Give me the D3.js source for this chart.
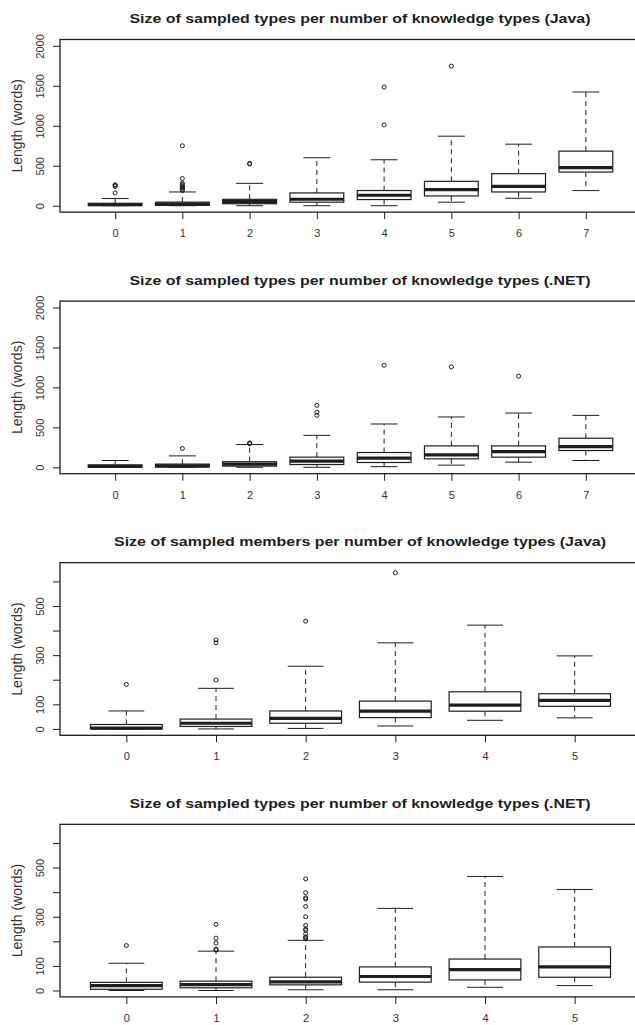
<!DOCTYPE html>
<html>
<head>
<meta charset="utf-8">
<script src="https://cdn.jsdelivr.net/npm/d3@7"></script>
<style>
body { margin: 0; background: #fff; }
svg { display: block; font-family: "Liberation Sans", Arial, sans-serif; }
</style>
</head>
<body>
<script>
// chart titles, top to bottom
var titles = [
  "Size of sampled types per number of knowledge types (Java)",
  "Size of sampled types per number of knowledge types (.NET)",
  "Size of sampled members per number of knowledge types (Java)",
  "Size of sampled types per number of knowledge types (.NET)"
];
var catsEight = ["0", "1", "2", "3", "4", "5", "6", "7"];
var catsSix = ["0", "1", "2", "3", "4", "5"];

// each box: [lower whisker, Q1, median, Q3, upper whisker]
var javaTypeStats = [[0, 3, 12, 30, 90], [0, 5, 20, 45, 172], [0, 25, 50, 80, 280], [0, 44, 81, 160, 600],
  [0, 77, 131, 190, 575], [44, 122, 202, 305, 870], [93, 172, 243, 401, 770], [189, 421, 476, 683, 1423]];
var javaTypeOutliers = [[160, 240, 255, 262], [190, 205, 220, 235, 250, 265, 280, 340, 750], [520, 530], [],
  [1011, 1485], [1747], [], []];

var netTypeStats = [[0, 0, 10, 31, 85], [0, 3, 19, 40, 143], [0, 15, 40, 70, 285], [0, 35, 77, 127, 400],
  [8, 60, 114, 185, 542], [27, 106, 156, 268, 630], [64, 127, 197, 268, 679], [85, 210, 260, 364, 650]];
var netTypeOutliers = [[], [235], [295, 300, 305], [650, 690, 775], [1277], [1256], [1140], []];

var javaMemberStats = [[0, 0, 3, 18, 73], [0, 10, 23, 40, 165], [2, 23, 43, 73, 255], [12, 46, 72, 113, 350],
  [35, 72, 97, 151, 422], [45, 92, 116, 143, 297]];
var javaMemberOutliers = [[181], [199, 350, 362], [438], [635], [], []];

var netTypeStats2 = [[0, 5, 20, 33, 111], [0, 11, 24, 38, 160], [3, 23, 35, 54, 204], [3, 34, 57, 96, 334],
  [13, 43, 85, 128, 464], [20, 54, 96, 177, 411]];
var netTypeOutliers2 = [[183], [165, 168, 193, 213, 269],
  [210, 215, 218, 230, 245, 250, 265, 300, 342, 372, 377, 398, 454], [], [], []];

var bigTicks = [0, 500, 1000, 1500, 2000];
var bigLabels = ["0", "500", "1000", "1500", "2000"];
var smallTicks = [0, 100, 200, 300, 400, 500, 600];
var smallLabels = ["0", "100", "", "300", "", "500", ""];

var panels = [
  { title: titles[0], cats: catsEight, stats: javaTypeStats, outliers: javaTypeOutliers, domain: [-80, 2080], ticks: bigTicks, labels: bigLabels, tl: 461 },
  { title: titles[1], cats: catsEight, stats: netTypeStats, outliers: netTypeOutliers, domain: [-80, 2080], ticks: bigTicks, labels: bigLabels, tl: 461 },
  { title: titles[2], cats: catsSix, stats: javaMemberStats, outliers: javaMemberOutliers, domain: [-26, 676], ticks: smallTicks, labels: smallLabels, tl: 492 },
  { title: titles[3], cats: catsSix, stats: netTypeStats2, outliers: netTypeOutliers2, domain: [-26, 676], ticks: smallTicks, labels: smallLabels, tl: 461 }
];

var ink = "#1e1e1e";
var svg = d3.select("body").append("svg")
  .attr("width", 635)
  .attr("height", 1025);

panels.forEach(function (p, i) {
  var top = 39.5 + i * 261.6;
  var bottom = top + 172.6;
  var n = p.cats.length;
  var x = d3.scaleLinear().domain([0.5 - n * 0.04, n + 0.5 + n * 0.04]).range([60, 641]);
  var y = d3.scaleLinear().domain(p.domain).range([bottom, top]);
  var g = svg.append("g");

  g.append("text")
    .attr("x", 360)
    .attr("y", top - 16.5)
    .attr("text-anchor", "middle")
    .attr("font-size", 13)
    .attr("font-weight", "bold")
    .attr("textLength", p.tl)
    .attr("lengthAdjust", "spacingAndGlyphs")
    .attr("fill", ink)
    .text(p.title);

  g.append("text")
    .attr("transform", "translate(22," + ((top + bottom) / 2) + ") rotate(-90)")
    .attr("text-anchor", "middle")
    .attr("font-size", 14)
    .attr("fill", "#333")
    .text("Length (words)");

  // frame
  g.append("rect")
    .attr("x", 60).attr("y", top)
    .attr("width", 581).attr("height", bottom - top)
    .attr("fill", "none").attr("stroke", ink).attr("stroke-width", 1.3);

  var yAxis = g.append("g")
    .attr("transform", "translate(60,0)")
    .call(d3.axisLeft(y).tickValues(p.ticks).tickSize(7)
      .tickFormat(function (d, j) { return p.labels[j]; }));
  yAxis.select(".domain").remove();
  yAxis.selectAll("line").attr("stroke", ink);
  yAxis.selectAll("text")
    .attr("transform", "rotate(-90)")
    .attr("x", 0).attr("y", -16).attr("dy", 0)
    .attr("text-anchor", "middle")
    .attr("font-size", 11)
    .attr("font-family", "Liberation Sans, Arial, sans-serif")
    .attr("fill", "#333");

  var xAxis = g.append("g")
    .attr("transform", "translate(0," + bottom + ")")
    .call(d3.axisBottom(x).tickValues(d3.range(1, n + 1)).tickSize(7).tickSizeOuter(0)
      .tickFormat(function (d) { return p.cats[d - 1]; }));
  xAxis.select(".domain").remove();
  xAxis.selectAll("line").attr("stroke", ink);
  xAxis.selectAll("text")
    .attr("y", 25).attr("dy", 0)
    .attr("font-size", 11)
    .attr("font-family", "Liberation Sans, Arial, sans-serif")
    .attr("fill", "#333");

  var box = g.selectAll("g.box")
    .data(p.stats)
    .enter().append("g")
      .attr("class", "box");

  // dashed whiskers
  box.append("line")
    .attr("x1", function (d, k) { return x(k + 1); })
    .attr("x2", function (d, k) { return x(k + 1); })
    .attr("y1", function (d) { return y(d[3]); })
    .attr("y2", function (d) { return y(d[4]); })
    .attr("stroke", ink).attr("stroke-dasharray", "5,4");
  box.append("line")
    .attr("x1", function (d, k) { return x(k + 1); })
    .attr("x2", function (d, k) { return x(k + 1); })
    .attr("y1", function (d) { return y(d[1]); })
    .attr("y2", function (d) { return y(d[0]); })
    .attr("stroke", ink).attr("stroke-dasharray", "5,4");

  // staples
  [0, 4].forEach(function (s) {
    box.append("line")
      .attr("x1", function (d, k) { return x(k + 0.8); })
      .attr("x2", function (d, k) { return x(k + 1.2); })
      .attr("y1", function (d) { return y(d[s]); })
      .attr("y2", function (d) { return y(d[s]); })
      .attr("stroke", ink);
  });

  box.append("rect")
    .attr("x", function (d, k) { return x(k + 0.6); })
    .attr("width", function (d, k) { return x(k + 1.4) - x(k + 0.6); })
    .attr("y", function (d) { return y(d[3]); })
    .attr("height", function (d) { return y(d[1]) - y(d[3]); })
    .attr("fill", "#fff").attr("stroke", ink).attr("stroke-width", 1.2);

  box.append("line")
    .attr("x1", function (d, k) { return x(k + 0.6); })
    .attr("x2", function (d, k) { return x(k + 1.4); })
    .attr("y1", function (d) { return y(d[2]); })
    .attr("y2", function (d) { return y(d[2]); })
    .attr("stroke", ink).attr("stroke-width", 3.2);

  p.outliers.forEach(function (vals, k) {
    g.selectAll(null)
      .data(vals)
      .enter().append("circle")
        .attr("cx", x(k + 1))
        .attr("cy", function (v) { return y(v); })
        .attr("r", 2)
        .attr("fill", "none")
        .attr("stroke", ink)
        .attr("stroke-width", 1);
  });
});
</script>
</body>
</html>
